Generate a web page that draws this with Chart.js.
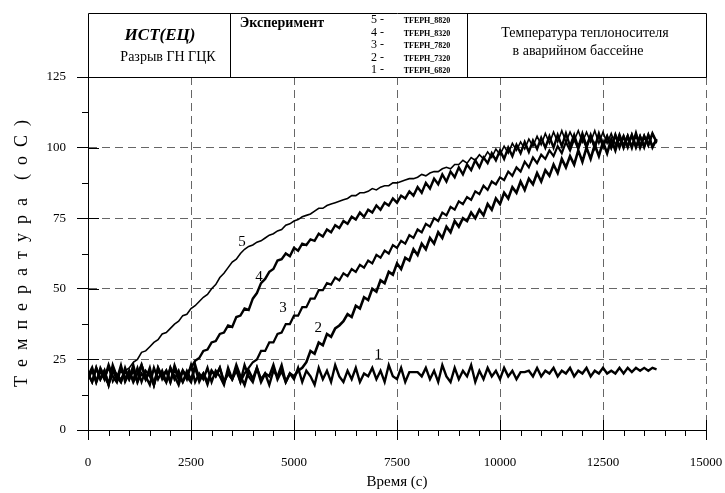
<!DOCTYPE html>
<html lang="ru">
<head>
<meta charset="utf-8">
<title>Температура теплоносителя в аварийном бассейне</title>
<script src="https://cdn.jsdelivr.net/npm/chart.js@4.4.1/dist/chart.umd.min.js"></script>
<style>
  html, body { margin: 0; padding: 0; background: #fff; }
  #wrap { width: 725px; height: 493px; }
</style>
</head>
<body>
<div id="wrap"><canvas id="tempChart" width="725" height="493"></canvas></div>
<script>
// logger interval of the TFEPH channels, seconds
const sampleStep = 100;

const seriesNames = ["TFEPH_6820", "TFEPH_7320", "TFEPH_7820", "TFEPH_8320", "TFEPH_8820"];
const curveNumbers = ["1", "2", "3", "4", "5"];

// temperatures, one value every sampleStep seconds (0 ... 13800 s)
const tfeph6820 = [
  20, 17, 22, 18, 21, 16, 23, 19, 17, 22,
  18, 21, 17, 23, 19, 16, 22, 18, 21, 17,
  22, 19, 16, 21, 18, 23, 17, 20, 18, 22,
  17, 21, 19, 16, 22, 18, 21, 17, 23, 19,
  17, 22, 18, 20, 16, 21, 19, 23, 17, 20,
  18, 22, 17, 21, 19, 16, 22, 18, 21, 17,
  23, 19, 17, 21, 18, 22, 17, 20, 19, 22,
  18, 21, 17, 23, 19, 18, 22, 17, 20.5, 20.5,
  20.5, 19, 22, 18, 21, 17, 23, 19, 17, 22,
  18, 21, 19, 23, 17, 21, 18, 22, 19, 21,
  18, 22, 19, 21, 18, 20.5, 20.5, 21, 19, 22,
  19, 21, 20, 22, 19, 21, 20, 22, 19, 21,
  20, 22, 19, 21, 20, 22, 20, 21, 20, 22,
  20, 22, 20.5, 22, 21, 22, 21, 22, 21.5
];
const tfeph7320 = [
  19, 22, 17, 21, 18, 23, 19, 17, 22, 18,
  21, 17, 20, 23, 18, 21, 16, 22, 19, 21,
  17, 22, 18, 21, 19, 17, 23, 18, 20, 17,
  21, 19, 22, 17, 20, 18, 23, 19, 16, 21,
  18, 22, 17, 20, 19, 23, 18, 21, 17, 20,
  19, 21, 22, 24, 28, 27, 31, 30, 34, 33,
  36, 37, 38.5, 41, 40, 44, 43, 47, 46, 50,
  49, 53, 52, 56, 55, 59, 57, 61, 60, 64,
  62, 66, 64, 68, 66, 70, 68, 72, 70, 74,
  72, 75, 74, 77, 75, 78, 76, 80, 78, 82,
  80, 84, 82, 86, 84, 88, 85, 89, 87, 91,
  88, 92, 90, 94, 91, 96, 93, 97, 94, 99,
  95, 100, 96, 101, 97, 102, 98, 103, 99, 104,
  100, 104, 100, 105, 100, 104, 101, 105, 102
];
const tfeph7820 = [
  18, 21, 17, 22, 19, 16, 21, 18, 23, 17,
  20, 18, 22, 17, 21, 19, 16, 22, 18, 21,
  17, 23, 19, 17, 21, 18, 22, 17, 20, 16,
  21, 19, 22, 17, 20, 18, 22, 17, 20, 22,
  24, 25, 28, 28, 31, 31, 34, 34.5, 37.5, 37.5,
  40.5, 40.5, 43.5, 43.5, 46.5, 46.5, 49.5, 49.5, 52, 51.5,
  54, 53, 55.5, 54.5, 57, 56, 58.5, 57.5, 60, 59,
  62, 61, 63.5, 62.5, 65.5, 64.5, 67, 66, 69, 68,
  71, 70, 73, 72, 75, 74, 77, 76, 79, 78,
  81, 80, 82.5, 81.5, 84.5, 83.5, 86.5, 85, 88, 87,
  89.5, 88.5, 91.5, 90, 93, 91.5, 95, 93, 96.5, 94.5,
  97.5, 96, 99, 97, 100.5, 98, 102, 99, 103, 99.5,
  103.5, 100, 104, 100, 104.5, 100.5, 104, 100, 104.5, 100.5,
  104, 100, 104.5, 100.5, 104, 100, 104.5, 100.5, 103
];
const tfeph8320 = [
  20, 17, 22, 18, 21, 16, 22, 19, 17, 21,
  18, 23, 17, 20, 18, 22, 16, 21, 19, 17,
  22, 18, 21, 17, 20, 22, 24.5, 25.5, 28, 28.5,
  31, 31.5, 34, 34.5, 37, 36.5, 40, 40.5, 43, 42.5,
  46.5, 48.5, 52, 53.5, 56, 57, 60, 60.5, 62.5, 61.5,
  64.5, 63.5, 66, 65.5, 67.5, 67, 69.5, 68.5, 71, 70,
  72.5, 71.5, 74, 73, 75.5, 74.5, 77, 75.5, 78, 77,
  79.5, 78, 80.5, 79.5, 82, 80.5, 83, 82, 84.5, 83,
  86, 84, 87.5, 85.5, 89, 87, 90.5, 88, 91.5, 89.5,
  93, 90.5, 94, 92, 95.5, 93, 96.5, 94.5, 98, 95.5,
  99, 96, 100, 97, 101, 98, 102, 98.5, 102.5, 99.5,
  103.5, 100, 104, 100, 104.5, 100.5, 105, 100.5, 104.5, 100,
  105, 100.5, 104.5, 100, 105, 100.5, 104, 100, 104.5, 100,
  104, 100.5, 104.5, 100, 104, 100.5, 104.5, 100, 103
];
const tfeph8820 = [
  19, 22, 17, 21, 18, 22, 17, 20, 18, 21,
  22, 24, 25, 27.5, 28, 29.5, 31, 32, 34, 34.5,
  36, 37.5, 38.5, 40.5, 41, 43, 44, 45.5, 47, 48,
  50, 51.5, 54, 55.5, 57.5, 59.5, 60.5, 62.5, 64, 65,
  65.5, 66.5, 67, 68, 69, 69.5, 70.5, 71, 72.5, 73,
  74, 74.5, 75.5, 76, 76.5, 77.5, 78.5, 78.5, 79.5, 80,
  80.5, 81, 81.5, 82, 83, 83, 84, 84, 84.5, 85.5,
  85, 86, 86.5, 86.5, 87.5, 87.5, 88, 88.5, 89, 89,
  89.5, 90.5, 90, 91, 91.5, 91.5, 92.5, 93, 92.5, 94,
  94, 95.5, 94.5, 96.5, 95.5, 97.5, 96, 98.5, 96.5, 99.5,
  97.5, 100.5, 98, 101.5, 99, 102, 99.5, 103, 100.5, 104,
  101, 105, 101.5, 105.5, 102, 106, 102, 105.5, 102.5, 106,
  102, 105.5, 102, 106, 101.5, 105.5, 101.5, 105, 101, 105,
  101, 104.5, 100.5, 105, 101, 104.5, 100.5, 105, 101.5
];
const seriesValues = [tfeph6820, tfeph7320, tfeph7820, tfeph8320, tfeph8820];
const seriesWidths = [2.4, 2.6, 2.2, 2.4, 1.6];

// where the curve numbers sit (time s, temperature oC)
const curveLabelTime = [7047, 5590, 4733, 4150, 3738];
const curveLabelTemp = [26.6, 36, 43.2, 54.3, 66.6];

const serif = "'Liberation Serif', 'Times New Roman', serif";

const datasets = seriesValues.map((values, k) => ({
  label: seriesNames[k],
  data: values.map((v, i) => ({ x: i * sampleStep, y: v })),
  borderColor: "#000",
  borderWidth: seriesWidths[k],
  pointRadius: 0,
  tension: 0,
  fill: false,
}));

// header box, tick marks on the axes and curve numbers
const decorPlugin = {
  id: "decor",
  afterDraw(chart) {
    const { ctx, chartArea: a, scales: { x, y } } = chart;
    ctx.save();
    ctx.strokeStyle = "#000";
    ctx.lineWidth = 1;

    // header box above the plot
    const top = 13;
    ctx.beginPath();
    ctx.rect(a.left + 0.5, top + 0.5, a.right - a.left, a.top - top);
    ctx.moveTo(230.5, top);
    ctx.lineTo(230.5, a.top);
    ctx.moveTo(467.5, top);
    ctx.lineTo(467.5, a.top);
    ctx.stroke();

    // major ticks cross the axis, minor ticks only outside
    ctx.beginPath();
    for (let t = 0; t <= 15000; t += 500) {
      const px = Math.round(x.getPixelForValue(t)) + 0.5;
      if (t % 2500 === 0) {
        ctx.moveTo(px, a.bottom - 10);
        ctx.lineTo(px, a.bottom + 10);
      } else {
        ctx.moveTo(px, a.bottom);
        ctx.lineTo(px, a.bottom + 6);
      }
    }
    for (let v = 0; v <= 125; v += 12.5) {
      const py = Math.round(y.getPixelForValue(v)) + 0.5;
      if (v % 25 === 0) {
        ctx.moveTo(a.left, py);
        ctx.lineTo(a.left + 11, py);
      } else {
        ctx.moveTo(a.left, py);
        ctx.lineTo(a.left - 6, py);
      }
    }
    ctx.stroke();

    ctx.fillStyle = "#000";
    ctx.textAlign = "center";
    ctx.textBaseline = "middle";

    ctx.font = "bold italic 17px " + serif;
    ctx.fillText("ИСТ(ЕЦ)", 160, 36);
    ctx.font = "14px " + serif;
    ctx.fillText("Разрыв ГН ГЦК", 168, 57);

    ctx.font = "bold 14px " + serif;
    ctx.fillText("Эксперимент", 282, 23);

    // channel list, top row is curve 5
    for (let r = 0; r < 5; r++) {
      const k = 4 - r;
      const rowY = 20 + r * 12.5;
      ctx.textAlign = "left";
      ctx.font = "12px " + serif;
      ctx.fillText(curveNumbers[k] + " -", 371, rowY);
      ctx.textAlign = "center";
      ctx.font = "bold 8px " + serif;
      ctx.fillText(seriesNames[k], 427, rowY + 1);
    }

    ctx.font = "14px " + serif;
    ctx.fillText("Температура теплоносителя", 585, 33);
    ctx.fillText("в аварийном бассейне", 578, 51);

    // curve numbers
    ctx.font = "15px " + serif;
    for (let k = 0; k < 5; k++) {
      ctx.fillText(curveNumbers[k], x.getPixelForValue(curveLabelTime[k]), y.getPixelForValue(curveLabelTemp[k]));
    }
    ctx.restore();
  },
};

new Chart(document.getElementById("tempChart"), {
  type: "line",
  data: { datasets },
  options: {
    responsive: false,
    animation: false,
    normalized: true,
    layout: { padding: { top: 77, right: 19, left: 0, bottom: 0 } },
    plugins: { legend: { display: false }, tooltip: { enabled: false } },
    scales: {
      x: {
        type: "linear",
        min: 0,
        max: 15000,
        ticks: {
          stepSize: 2500,
          autoSkip: false,
          maxRotation: 0,
          padding: 0,
          color: "#000",
          font: { family: serif, size: 13 },
          callback: (v) => String(v),
        },
        // tick marks are drawn by the plugin, tickLength only spaces the labels
        grid: { color: "#666", lineWidth: 1, tickLength: 25, tickColor: "rgba(0,0,0,0)" },
        border: { display: true, color: "#000", width: 1, dash: [8, 5] },
        title: {
          display: true,
          text: "Время (с)",
          color: "#000",
          font: { family: serif, size: 15 },
          padding: { top: 0, bottom: 2 },
        },
        afterFit(scale) {
          scale.height = 63;
        },
      },
      y: {
        min: 0,
        max: 125,
        ticks: {
          stepSize: 25,
          padding: 11,
          color: "#000",
          font: { family: serif, size: 13 },
          callback: (v) => String(v),
        },
        grid: { color: "#666", lineWidth: 1, tickLength: 11, tickColor: "#000" },
        border: { display: true, color: "#000", width: 1, dash: [8, 5] },
        title: {
          display: true,
          text: "Т  е  м  п  е  р  а  т  у  р  а    (  o  C  )",
          color: "#000",
          font: { family: serif, size: 18 },
          padding: { top: 11, bottom: 0 },
        },
        afterFit(scale) {
          scale.width = 88;
        },
      },
    },
  },
  plugins: [decorPlugin],
});
</script>
</body>
</html>
